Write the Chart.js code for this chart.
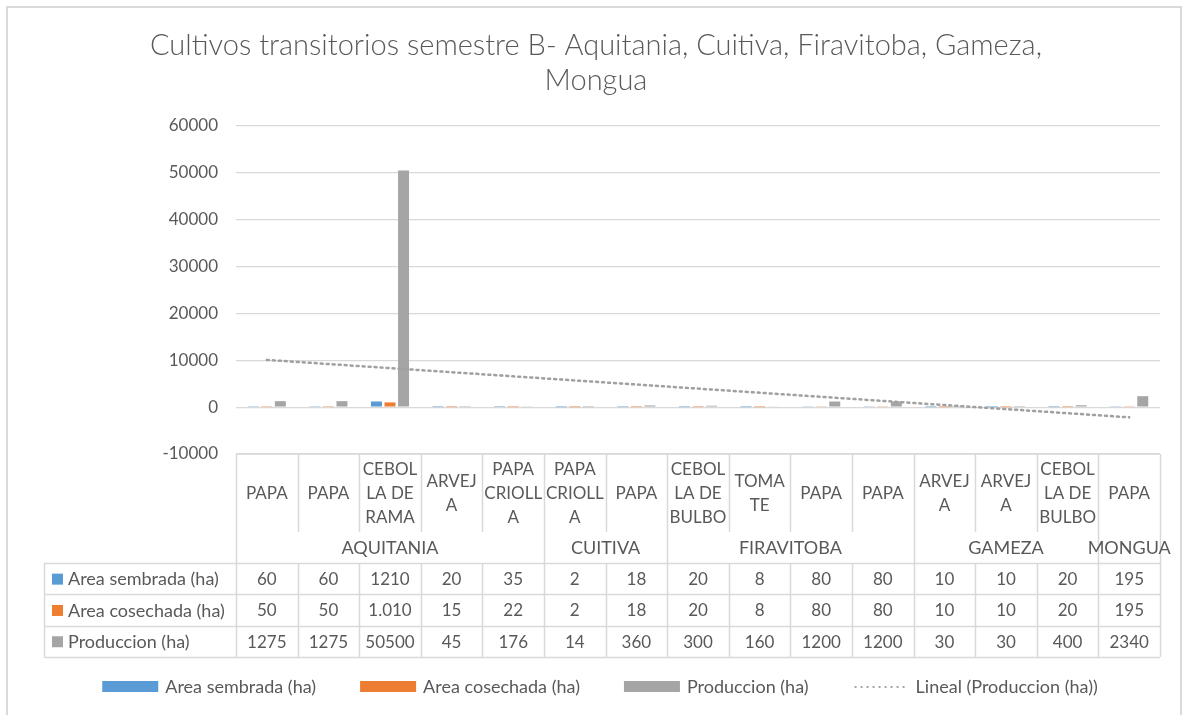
<!DOCTYPE html>
<html>
<head>
<meta charset="utf-8">
<script src="https://cdn.jsdelivr.net/npm/chart.js@4.4.1/dist/chart.umd.min.js"></script>
<style>
html,body{margin:0;padding:0;background:#fff;}
canvas{display:block;}
</style>
</head>
<body>
<canvas id="c" width="1186" height="715"></canvas>
<script>
// ---- data ----
const titleLines = ['Cultivos transitorios semestre B- Aquitania, Cuitiva, Firavitoba, Gameza,', 'Mongua'];
const categories = [
  ['PAPA'], ['PAPA'], ['CEBOL','LA DE','RAMA'], ['ARVEJ','A'], ['PAPA','CRIOLL','A'],
  ['PAPA','CRIOLL','A'], ['PAPA'],
  ['CEBOL','LA DE','BULBO'], ['TOMA','TE'], ['PAPA'], ['PAPA'],
  ['ARVEJ','A'], ['ARVEJ','A'], ['CEBOL','LA DE','BULBO'],
  ['PAPA']
];
const municipios = ['AQUITANIA','AQUITANIA','AQUITANIA','AQUITANIA','AQUITANIA',
  'CUITIVA','CUITIVA',
  'FIRAVITOBA','FIRAVITOBA','FIRAVITOBA','FIRAVITOBA',
  'GAMEZA','GAMEZA','GAMEZA',
  'MONGUA'];
const areaSembrada  = [60, 60, 1210, 20, 35, 2, 18, 20, 8, 80, 80, 10, 10, 20, 195];
const areaCosechada = [50, 50, 1010, 15, 22, 2, 18, 20, 8, 80, 80, 10, 10, 20, 195];
const produccion    = [1275, 1275, 50500, 45, 176, 14, 360, 300, 160, 1200, 1200, 30, 30, 400, 2340];
const yTickValues   = [-10000, 0, 10000, 20000, 30000, 40000, 50000, 60000];
const seriesNames   = ['Area sembrada (ha)', 'Area cosechada (ha)', 'Produccion (ha)'];
const trendName     = 'Lineal (Produccion (ha))';

// linear trend line (least squares, as Excel "Lineal")
function linearTrend(ys){
  const n = ys.length; let sx=0, sy=0, sxy=0, sxx=0;
  ys.forEach((y,i)=>{const x=i+1; sx+=x; sy+=y; sxy+=x*y; sxx+=x*x;});
  const b = (n*sxy - sx*sy)/(n*sxx - sx*sx);
  const a = (sy - b*sx)/n;
  return ys.map((_,i)=>a + b*(i+1));
}
const trend = linearTrend(produccion);

const COLORS = ['#5B9BD5', '#ED7D31', '#A5A5A5'];
const TXT = '#595959';
const GRID = '#D9D9D9';
const FONT = 'Lato, "Open Sans", sans-serif';
const TEXT_FONT = '18px ' + FONT;   // words
const CAT_FONT = '17px ' + FONT;    // category labels
const NUM_FONT = '17px ' + FONT;    // numbers

function groupThousands(v, sep){
  const s = String(Math.round(v));
  return s.replace(/\B(?=(\d{3})+(?!\d))/g, sep);
}
const tableFormats = [v=>String(v), v=>groupThousands(v,'.'), v=>String(v)];

const frame = {
  id:'frame',
  beforeDraw(chart){
    const ctx = chart.ctx;
    ctx.save();
    ctx.fillStyle = '#fff';
    ctx.fillRect(0,0,chart.width,chart.height);
    ctx.strokeStyle = GRID; ctx.lineWidth = 2;
    ctx.beginPath();
    ctx.moveTo(7, 720); ctx.lineTo(7, 7); ctx.lineTo(1181, 7); ctx.lineTo(1181, 720);
    ctx.stroke();
    // title
    ctx.fillStyle = TXT;
    ctx.font = '300 29px ' + FONT;
    ctx.textAlign = 'center'; ctx.textBaseline = 'middle';
    ctx.fillText(titleLines[0], 596, 46);
    ctx.fillText(titleLines[1], 596, 81);
    ctx.restore();
  }
};

const dataTable = {
  id:'dataTable',
  afterDraw(chart){
    const ctx = chart.ctx;
    const xs = chart.scales.x;
    const area = chart.chartArea;
    const n = categories.length;
    const cw = (area.right - area.left)/n;
    const top = area.bottom;
    const catBottom = top + 78;
    const grpBottom = top + 109;
    const rowH = 31.3;
    const tableLeft = 44;
    ctx.save();
    ctx.strokeStyle = GRID; ctx.lineWidth = 1.5;
    const line=(x1,y1,x2,y2)=>{ctx.beginPath();ctx.moveTo(x1,y1);ctx.lineTo(x2,y2);ctx.stroke();};
    // header top
    line(area.left, top, area.right, top);
    // boundaries
    for(let i=0;i<=n;i++){
      const x = Math.round(area.left + i*cw) + 0.5;
      const isGroupEdge = (i===0 || i===n || municipios[i] !== municipios[i-1]);
      line(x, top, x, isGroupEdge ? grpBottom : catBottom);
      line(x, grpBottom, x, grpBottom + 3*rowH);
    }
    line(tableLeft+0.5, grpBottom, tableLeft+0.5, grpBottom + 3*rowH);
    for(let r=0;r<=3;r++){
      const y = Math.round(grpBottom + r*rowH) + 0.5;
      line(tableLeft, y, area.right, y);
    }
    // category labels
    ctx.fillStyle = TXT;
    ctx.font = CAT_FONT;
    ctx.textAlign = 'center'; ctx.textBaseline = 'middle';
    const lh = 24;
    const midCat = (top + catBottom)/2 + 1;
    categories.forEach((lines,i)=>{
      const cx = xs.getPixelForValue(i);
      const y0 = midCat - (lines.length-1)*lh/2;
      lines.forEach((t,k)=>ctx.fillText(t, cx, y0 + k*lh));
    });
    // group labels
    ctx.font = TEXT_FONT;
    let start = 0;
    for(let i=1;i<=n;i++){
      if(i===n || municipios[i] !== municipios[start]){
        const x1 = area.left + start*cw, x2 = area.left + i*cw;
        ctx.fillText(municipios[start], (x1+x2)/2, (catBottom+grpBottom)/2 + 1);
        start = i;
      }
    }
    // data rows
    const series = [areaSembrada, areaCosechada, produccion];
    series.forEach((vals,r)=>{
      const cy = grpBottom + r*rowH + rowH/2 + 1;
      ctx.fillStyle = COLORS[r];
      ctx.fillRect(52, cy - 6, 11, 11);
      ctx.fillStyle = TXT;
      ctx.textAlign = 'left';
      ctx.font = TEXT_FONT;
      ctx.fillText(seriesNames[r], 68, cy);
      ctx.textAlign = 'center';
      ctx.font = NUM_FONT;
      vals.forEach((v,i)=>ctx.fillText(tableFormats[r](v), xs.getPixelForValue(i), cy));
    });
    // legend
    ctx.font = TEXT_FONT;
    ctx.textBaseline = 'middle'; ctx.textAlign = 'left';
    const items = [...seriesNames, trendName];
    const swW = 56, swGap = 7, itemGap = 44;
    const widths = items.map(t => swW + swGap + ctx.measureText(t).width);
    const total = widths.reduce((a,b)=>a+b,0) + itemGap*(items.length-1);
    let x = 600 - total/2;
    const ly = 687;
    items.forEach((t,k)=>{
      if(k<3){
        ctx.fillStyle = COLORS[k];
        ctx.fillRect(x, ly-6, swW, 11);
      } else {
        ctx.strokeStyle = '#A5A5A5'; ctx.lineWidth = 2;
        ctx.setLineDash([2,4]);
        line(x+2, ly, x+swW-4, ly);
        ctx.setLineDash([]);
      }
      ctx.fillStyle = TXT;
      ctx.fillText(t, x + swW + swGap, ly);
      x += widths[k] + itemGap;
    });
    ctx.restore();
  }
};

new Chart(document.getElementById('c'), {
  type:'bar',
  data:{
    labels: categories,
    datasets:[
      {label: seriesNames[0], data: areaSembrada, backgroundColor: COLORS[0], order:2},
      {label: seriesNames[1], data: areaCosechada, backgroundColor: COLORS[1], order:2},
      {label: seriesNames[2], data: produccion, backgroundColor: COLORS[2], order:2},
      {type:'line', label: trendName, data: trend, borderColor:'#A0A0A0', borderWidth:2.5,
       borderDash:[2,4], borderCapStyle:'round', pointRadius:0, fill:false, tension:0, order:1}
    ]
  },
  options:{
    responsive:false,
    devicePixelRatio:1,
    animation:false,
    categoryPercentage:0.66,
    barPercentage:0.81,
    layout:{padding:{top:126, right:26, bottom:261, left:0}},
    plugins:{legend:{display:false}, title:{display:false}, tooltip:{enabled:false}},
    scales:{
      x:{display:false},
      y:{
        min:-10000, max:60000,
        afterBuildTicks(s){ s.ticks = yTickValues.map(v=>({value:v})); },
        afterFit(s){ s.width = 236; },
        ticks:{color:TXT, font:{family:FONT, size:17}, padding:18, callback:v=>String(v)},
        grid:{color:GRID, lineWidth:1.25, drawTicks:false},
        border:{display:false}
      }
    }
  },
  plugins:[frame, dataTable]
});
</script>
</body>
</html>
